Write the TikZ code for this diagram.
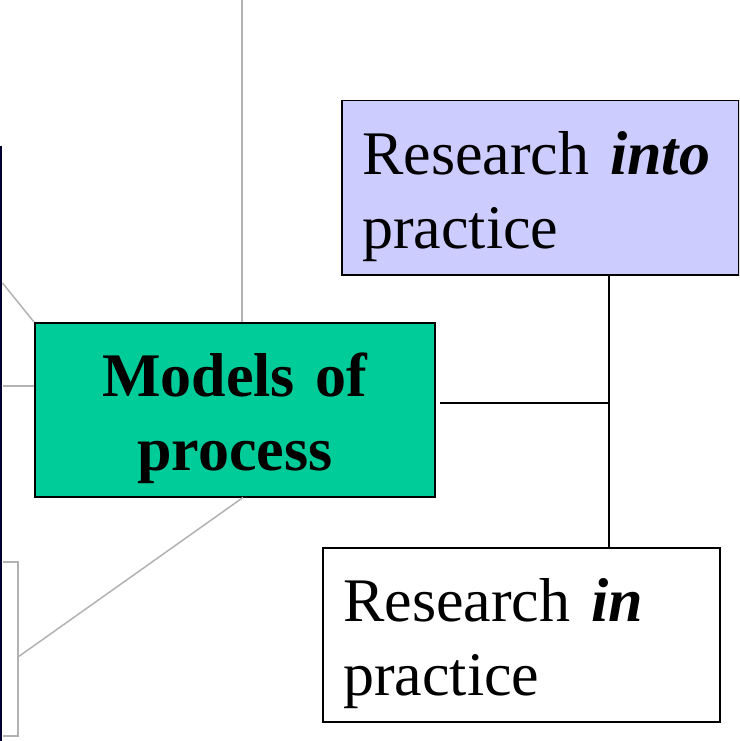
\documentclass[tikz,border=0pt]{standalone}
\usepackage{fontspec}
\setmainfont{Liberation Serif}
\usepackage{tikz}
\usetikzlibrary{calc}

\definecolor{modelgreen}{RGB}{0,204,153}
\definecolor{intoblue}{RGB}{204,204,255}
\definecolor{linkgray}{RGB}{178,178,178}
\definecolor{edgenavy}{RGB}{0,0,51}

\tikzset{
  box/.style={draw=black, line width=1.5pt, minimum width=397pt, minimum height=174pt,
    inner xsep=20.5pt, inner ysep=0pt, text width=356pt, align=left,
    font=\fontsize{62}{74}\selectfont, execute at begin node={\rule{0pt}{60pt}}},
  link/.style={draw=linkgray, line width=1.5pt},
  blackline/.style={draw=black, line width=2pt}
}

\begin{document}
\begin{tikzpicture}[x=1pt, y=-1pt]
        \useasboundingbox (0,0) rectangle (739,741);
        \clip (0,0) rectangle (739,741);
        % box cut off at the left edge
        \node[draw=edgenavy, line width=2pt, minimum width=300pt, minimum height=700pt, anchor=north east] (leftbox) at (1.5,146) {};
        % the three boxes
        \node[box, fill=modelgreen, anchor=north west, minimum width=400pt, text width=359pt, align=center, font=\fontsize{62}{74}\selectfont\bfseries] (models) at (34,322) {Models of\\process};
        \node[box, fill=intoblue, anchor=north west] (into) at (341,100) {Research \textbf{\textit{into}}\\practice};
        \node[box, fill=white, anchor=north west] (in) at (322,547) {Research \textbf{\textit{in}}\\practice};
        % grey links on the left
        \coordinate (topend) at (242,0);
        \coordinate (bracket) at (18,657);
        \draw[link] (topend) -- (topend |- models.north);
        \draw[link] ($(leftbox.east |- 0,283)+(1,0)$) -- (models.north west);
        \draw[link] ($(leftbox.east |- 0,386)+(1,0)$) -- (models.west |- 0,386);
        \draw[link] ($(leftbox.east |- 0,562)+(1,0)$) -| (bracket) |- ($(leftbox.east |- 0,736)+(1,0)$);
        \draw[link] (bracket) -- (models.south -| 243,0);
        % black links on the right
        \coordinate (junction) at (609,403);
        \draw[blackline] (into.south -| junction) -- (in.north -| junction);
        \draw[blackline] (junction -| 440,0) -- (junction);
    \end{tikzpicture}
\end{document}
